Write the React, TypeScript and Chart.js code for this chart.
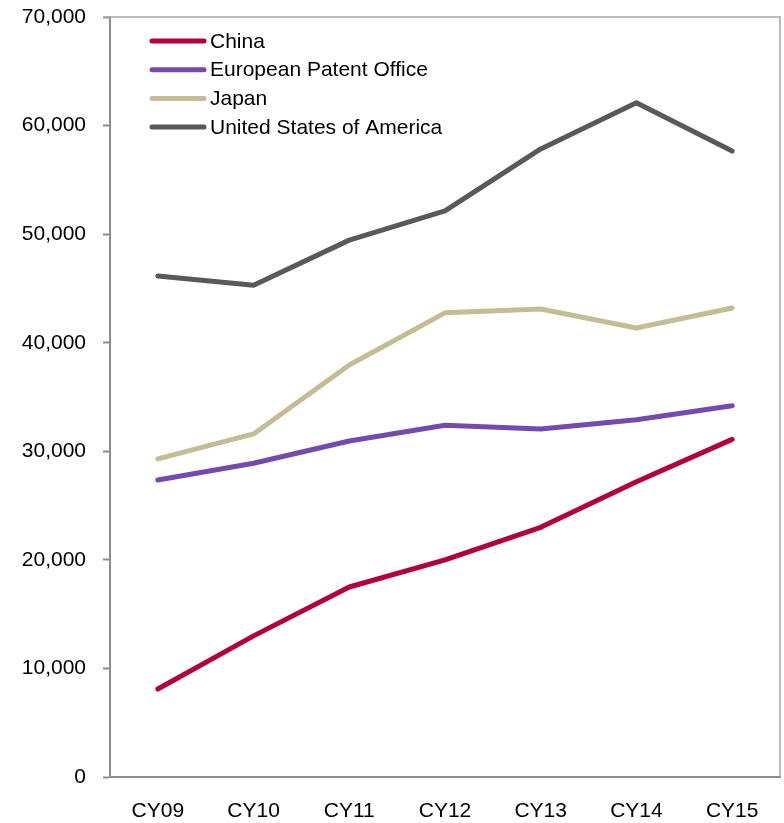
import React, { useEffect, useRef } from "react";
import { Chart, registerables } from "chart.js";

Chart.register(...registerables);

const categories = ["CY09", "CY10", "CY11", "CY12", "CY13", "CY14", "CY15"];
const china = [8100, 13000, 17500, 20000, 23000, 27200, 31100];
const epo = [27350, 28900, 30950, 32400, 32050, 32900, 34200];
const japan = [29300, 31600, 37950, 42750, 43100, 41350, 43200];
const usa = [46150, 45300, 49450, 52150, 57850, 62100, 57650];

const seriesNames = ["China", "European Patent Office", "Japan", "United States of America"];
const seriesColors = ["#B4003A", "#7549B0", "#C4BC95", "#595959"];

const FONT = "'Liberation Sans', Arial, sans-serif";

const boxAndLegend = {
  id: "boxAndLegend",
  beforeDatasetsDraw(chart: any) {
    const { ctx, chartArea } = chart;
    ctx.save();
    ctx.strokeStyle = "#A6A6A6";
    ctx.lineWidth = 1.5;
    ctx.beginPath();
    ctx.moveTo(chartArea.left - 6, chartArea.top);
    ctx.lineTo(chartArea.right, chartArea.top);
    ctx.lineTo(chartArea.right, chartArea.bottom);
    ctx.stroke();
    ctx.restore();
  },
  afterDraw(chart: any) {
    const { ctx } = chart;
    ctx.save();
    ctx.font = `21px ${FONT}`;
    ctx.textBaseline = "middle";
    ctx.textAlign = "left";
    chart.data.datasets.forEach((ds: any, i: number) => {
      const y = 41 + i * 28.7;
      ctx.strokeStyle = ds.borderColor;
      ctx.lineWidth = 5;
      ctx.lineCap = "round";
      ctx.beginPath();
      ctx.moveTo(152, y);
      ctx.lineTo(204, y);
      ctx.stroke();
      ctx.fillStyle = "#000";
      ctx.fillText(ds.label, 210, y + 1);
    });
    ctx.restore();
  },
};

export default function App() {
  const ref = useRef<HTMLCanvasElement>(null);
  useEffect(() => {
    document.body.style.margin = "0";
    const values = [china, epo, japan, usa];
    const chart = new Chart(ref.current!, {
      type: "line",
      data: {
        labels: categories,
        datasets: values.map((v, i) => ({
          label: seriesNames[i],
          data: v,
          borderColor: seriesColors[i],
          backgroundColor: seriesColors[i],
          borderWidth: 5,
          pointRadius: 0,
          tension: 0,
          borderCapStyle: "round" as const,
          borderJoinStyle: "round" as const,
        })),
      },
      options: {
        animation: false,
        responsive: false,
        maintainAspectRatio: false,
        layout: { padding: { top: 17, right: 4, left: 0, bottom: 0 } },
        plugins: { legend: { display: false }, tooltip: { enabled: false } },
        scales: {
          x: {
            offset: true,
            grid: { display: false, drawTicks: false },
            border: { display: true, color: "#8C8C8C", width: 2 },
            ticks: { color: "#000", font: { family: FONT, size: 21 }, padding: 22 },
            afterFit(scale: any) {
              scale.height = 46;
            },
          },
          y: {
            min: 0,
            max: 70000,
            ticks: {
              stepSize: 10000,
              color: "#000",
              font: { family: FONT, size: 21 },
              padding: 17,
              callback: (v: any) => Number(v).toLocaleString("en-US"),
            },
            grid: { display: true, drawOnChartArea: false, drawTicks: true, tickLength: 7, color: "#8C8C8C", tickWidth: 2 },
            border: { display: true, color: "#8C8C8C", width: 2 },
            afterFit(scale: any) {
              scale.width = 110;
              scale.paddingTop = 0;
              scale.paddingBottom = 0;
            },
          },
        },
      },
      plugins: [boxAndLegend],
    });
    return () => chart.destroy();
  }, []);
  return (
    <div style={{ position: "absolute", left: 0, top: 0, width: 784, height: 823 }}>
      <canvas ref={ref} width={784} height={823} style={{ width: 784, height: 823 }} />
    </div>
  );
}
